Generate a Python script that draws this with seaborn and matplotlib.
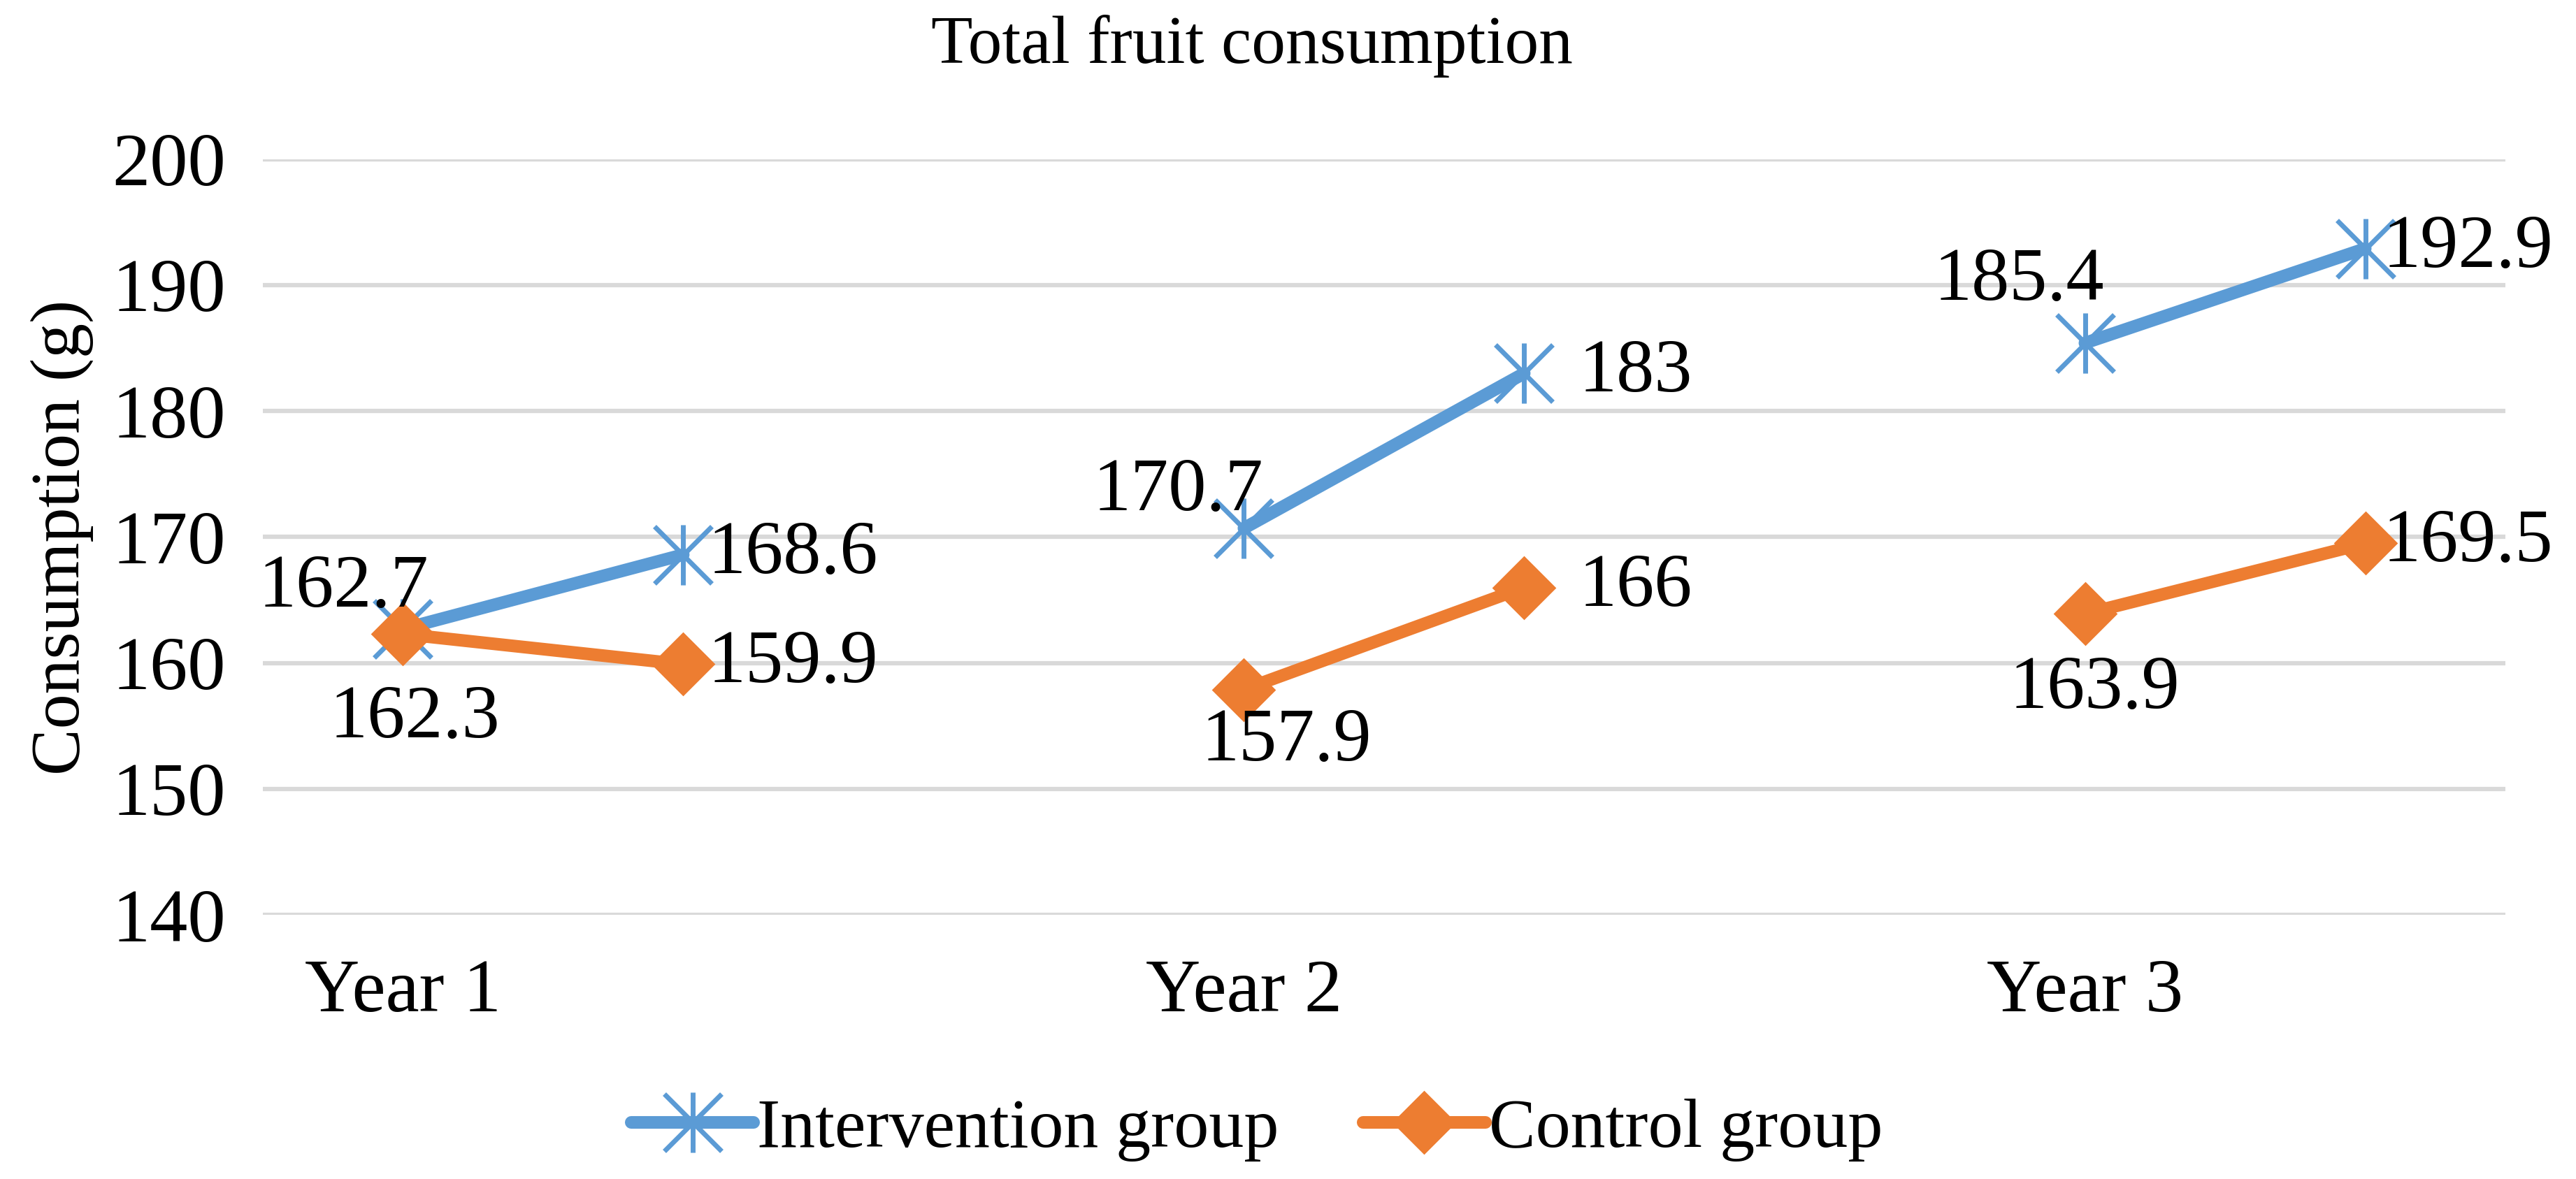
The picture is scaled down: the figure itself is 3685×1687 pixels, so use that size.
import numpy as np
import pandas as pd
import matplotlib
matplotlib.use("Agg")
from matplotlib import pyplot as plt
from matplotlib.path import Path
from matplotlib.lines import Line2D
import seaborn as sns

years = ["Year 1", "Year 2", "Year 3"]
periods = ["start", "end"]
intervention = [162.7, 168.6, 170.7, 183.0, 185.4, 192.9]
control = [162.3, 159.9, 157.9, 166.0, 163.9, 169.5]
groups = ["Intervention group", "Control group"]

# label offsets in points (dx, dy), same order as the values
int_offsets = [(-61, 42), (113, 0), (-68, 37), (115, 0), (-68, 63), (106, 0)]
ctl_offsets = [(12, -88), (113, 0), (44, -54), (115, 0), (10, -78), (106, 0)]

rows = []
for gname, vals in zip(groups, [intervention, control]):
    for i, v in enumerate(vals):
        yi, pi = divmod(i, 2)
        rows.append({"group": gname, "year": years[yi], "slot": yi * 3 + pi, "value": v})
df = pd.DataFrame(rows)

sns.set_style("white")
plt.rcParams["font.family"] = ["Liberation Serif", "DejaVu Serif"]
plt.rcParams["text.color"] = "black"
plt.rcParams["axes.labelcolor"] = "black"
plt.rcParams["xtick.color"] = "black"
plt.rcParams["ytick.color"] = "black"

blue = "#5B9BD5"
orange = "#ED7D31"

star = Path([(-1, -1), (1, 1), (-1, 1), (1, -1), (0, -1.05), (0, 1.05)],
            [Path.MOVETO, Path.LINETO, Path.MOVETO, Path.LINETO, Path.MOVETO, Path.LINETO])
diamond = Path([(0, 1), (1, 0), (0, -1), (-1, 0), (0, 1)],
               [Path.MOVETO, Path.LINETO, Path.LINETO, Path.LINETO, Path.CLOSEPOLY])

fig = plt.figure(figsize=(36.85, 16.87), dpi=100)
ax = fig.add_axes([0.102, 0.224, 0.8706, 0.641])

styles = {
    "Intervention group": dict(color=blue, marker=star, ms=62, mew=5, mfc="none", mec=blue, lw=13),
    "Control group": dict(color=orange, marker=diamond, ms=66, mew=0, mfc=orange, mec=orange, lw=13),
}

for gname in groups:
    sub = df[df["group"] == gname]
    sns.lineplot(data=sub, x="slot", y="value", units="year", estimator=None,
                 ax=ax, legend=False, solid_capstyle="round", **styles[gname])

for gname, offs in zip(groups, [int_offsets, ctl_offsets]):
    sub = df[df["group"] == gname]
    for (x, v), off in zip(sub[["slot", "value"]].values, offs):
        ax.annotate(f"{v:g}", (x, v), xytext=off, textcoords="offset points",
                    ha="center", va="center", fontsize=78, color="black", zorder=5)

ax.set_xlim(-0.5, 7.5)
ax.set_ylim(140, 200)
ax.set_yticks(np.arange(140, 201, 10))
ax.set_xticks([i * 3 for i in range(len(years))])
ax.set_xticklabels(years)
ax.yaxis.grid(True, color="#D9D9D9", lw=4.5)
ax.set_axisbelow(True)
for s in ax.spines.values():
    s.set_visible(False)
ax.tick_params(axis="both", length=0, labelsize=78)
ax.tick_params(axis="x", pad=45)
ax.tick_params(axis="y", pad=38)
ax.set_xlabel("")
ax.set_ylabel("Consumption (g)", fontsize=72)
ax.yaxis.set_label_coords(-0.0754, 0.5)

fig.text(0.486, 0.961, "Total fruit consumption", ha="center", va="center", fontsize=70)

handles = [Line2D([], [], solid_capstyle="round", **styles[g]) for g in groups]
fig.legend(handles, groups, loc="center", bbox_to_anchor=(0.488, 0.042), ncol=2,
           frameon=False, fontsize=72, handlelength=1.75, handletextpad=0.05,
           columnspacing=1.2, numpoints=1)

fig.savefig("out.png", dpi=100)
